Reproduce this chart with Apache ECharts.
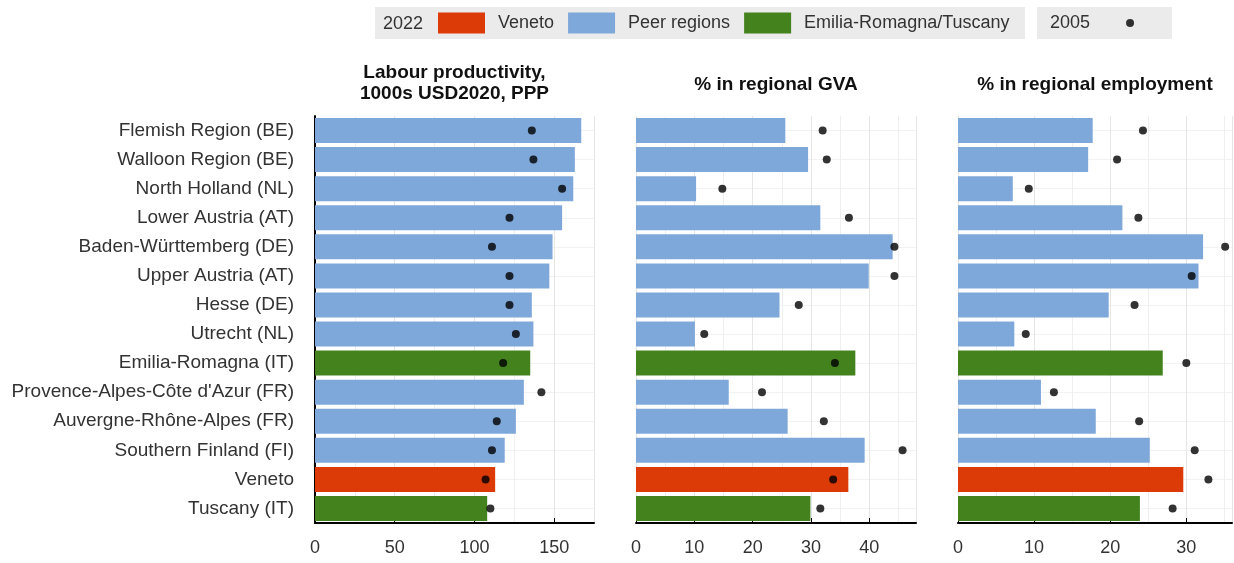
<!DOCTYPE html>
<html>
<head>
<meta charset="utf-8">
<script src="https://cdn.jsdelivr.net/npm/echarts@6/dist/echarts.min.js"></script>
<style>
  html, body { margin: 0; padding: 0; background: #fff; }
  #chart { width: 1234px; height: 563px; }
</style>
</head>
<body>
<div id="chart"></div>
<script>
// regions, top to bottom
const regions = [
  "Flemish Region (BE)", "Walloon Region (BE)", "North Holland (NL)", "Lower Austria (AT)",
  "Baden-Württemberg (DE)", "Upper Austria (AT)", "Hesse (DE)", "Utrecht (NL)",
  "Emilia-Romagna (IT)", "Provence-Alpes-Côte d'Azur (FR)", "Auvergne-Rhône-Alpes (FR)",
  "Southern Finland (FI)", "Veneto", "Tuscany (IT)"
];
const regionGroup = [
  "Peer regions", "Peer regions", "Peer regions", "Peer regions",
  "Peer regions", "Peer regions", "Peer regions", "Peer regions",
  "Emilia-Romagna/Tuscany", "Peer regions", "Peer regions",
  "Peer regions", "Veneto", "Emilia-Romagna/Tuscany"
];

// labour productivity, 1000s USD2020 PPP
const prod2022 = [167, 163, 162, 155, 149, 147, 136, 137, 135, 131, 126, 119, 113, 108];
const prod2005 = [136, 137, 155, 122, 111, 122, 122, 126, 118, 142, 114, 111, 107, 110];
// % in regional GVA
const gva2022 = [25.6, 29.5, 10.3, 31.6, 44.0, 39.9, 24.6, 10.1, 37.6, 15.9, 26.0, 39.2, 36.4, 29.9];
const gva2005 = [32.0, 32.7, 14.8, 36.5, 44.3, 44.3, 27.9, 11.7, 34.1, 21.6, 32.2, 45.7, 33.8, 31.6];
// % in regional employment
const emp2022 = [17.7, 17.1, 7.2, 21.6, 32.2, 31.6, 19.8, 7.4, 26.9, 10.9, 18.1, 25.2, 29.6, 23.9];
const emp2005 = [24.3, 20.9, 9.3, 23.7, 35.1, 30.7, 23.2, 8.9, 30.0, 12.6, 23.8, 31.1, 32.9, 28.2];

const groups = ["Veneto", "Peer regions", "Emilia-Romagna/Tuscany"];
const groupColors = { "Veneto": "#DC3A06", "Peer regions": "#7FA8DA", "Emilia-Romagna/Tuscany": "#43821C" };

const FONT = "'Liberation Sans', Arial, sans-serif";

const panels = [
  { title: "Labour productivity,\n1000s USD2020, PPP", v2022: prod2022, v2005: prod2005,
    left: 315, width: 279, max: 175, interval: 50, titleY: 62 },
  { title: "% in regional GVA", v2022: gva2022, v2005: gva2005,
    left: 636, width: 280, max: 48, interval: 10, titleY: 74 },
  { title: "% in regional employment", v2022: emp2022, v2005: emp2005,
    left: 958, width: 274, max: 36, interval: 10, titleY: 74 }
];

const grid = [], xAxis = [], yAxis = [], series = [], graphic = [];

panels.forEach((p, i) => {
  grid.push({ left: p.left, top: 116, width: p.width, height: 407 });

  xAxis.push({
    type: "value", gridIndex: i, min: 0, max: p.max, interval: p.interval,
    axisLine: { show: true, lineStyle: { color: "#000", width: 2 } },
    axisTick: { show: true, inside: true, length: 5, lineStyle: { color: "#000" } },
    axisLabel: { fontFamily: FONT, fontSize: 18, color: "#333", margin: 16, showMaxLabel: false },
    splitLine: { show: true, lineStyle: { color: "#e6e6e6" } },
    minorTick: { show: false, splitNumber: 2 },
    minorSplitLine: { show: true, lineStyle: { color: "#efefef" } }
  });

  yAxis.push({
    type: "category", gridIndex: i, data: regions, inverse: true,
    axisLine: { show: i === 0, lineStyle: { color: "#000", width: 2 } },
    axisTick: { show: i === 0, inside: true, alignWithLabel: true, length: 4, lineStyle: { color: "#000" } },
    axisLabel: { show: i === 0, fontFamily: FONT, fontSize: 19, color: "#333", margin: 21 },
    splitLine: { show: true, alignWithLabel: true, lineStyle: { color: "#f2f2f2" } }
  });

  groups.forEach((g) => {
    series.push({
      name: g, type: "bar", xAxisIndex: i, yAxisIndex: i, stack: "p" + i,
      barWidth: "86%",
      itemStyle: { color: groupColors[g] },
      data: p.v2022.map((v, k) => (regionGroup[k] === g ? v : "-"))
    });
  });

  series.push({
    name: "2005", type: "scatter", xAxisIndex: i, yAxisIndex: i,
    symbol: "circle", symbolSize: 8, z: 5,
    itemStyle: { color: "#000" },
    data: p.v2005.map((v, k) => [v, regions[k]])
  });

  graphic.push({
    type: "text", x: p.left + p.width / 2, y: p.titleY,
    style: {
      text: p.title, font: "bold 19px " + FONT, fill: "#111",
      textAlign: "center", textVerticalAlign: "top", lineHeight: 21
    }
  });
});

// legend backgrounds and the "2022" caption
graphic.push(
  { type: "rect", shape: { x: 375, y: 7, width: 650, height: 32 }, style: { fill: "#ebebeb" }, z: -1 },
  { type: "rect", shape: { x: 1037, y: 7, width: 135, height: 32 }, style: { fill: "#ebebeb" }, z: -1 },
  { type: "text", x: 383, y: 24, style: { text: "2022", font: "18px " + FONT, fill: "#333", textVerticalAlign: "middle" } }
);

const chart = echarts.init(document.getElementById("chart"));
chart.setOption({
  animation: false,
  grid, xAxis, yAxis, series, graphic,
  legend: [
    {
      data: groups, left: 438, top: 10, padding: 0, icon: "rect",
      itemWidth: 47, itemHeight: 21, itemGap: 14,
      textStyle: { fontFamily: FONT, fontSize: 18, color: "#333", lineHeight: 24, padding: [2, 0, 0, 8] }
    },
    {
      data: ["2005"], left: 1050, top: 10, padding: 0, align: "right", icon: "circle",
      itemWidth: 8, itemHeight: 8,
      textStyle: { fontFamily: FONT, fontSize: 18, color: "#333", lineHeight: 24, padding: [2, 31, 0, 0] }
    }
  ]
});
</script>
</body>
</html>
